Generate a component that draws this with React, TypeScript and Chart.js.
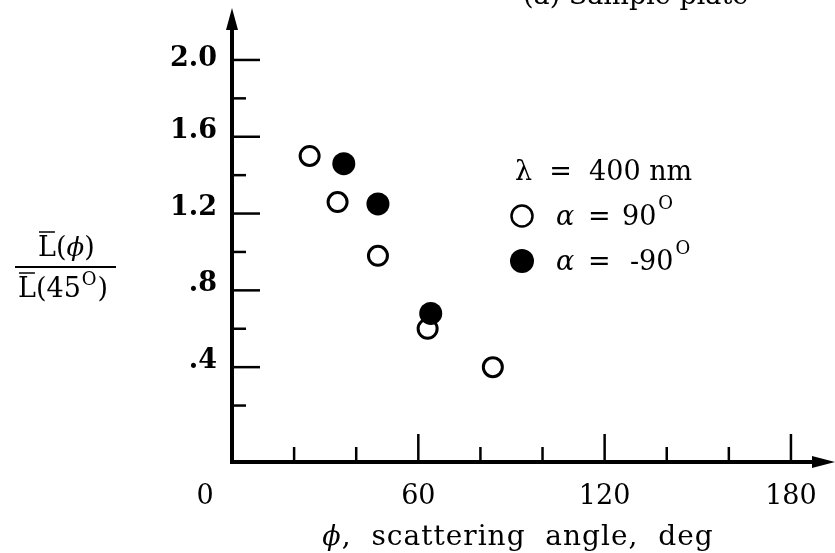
import React, { useEffect, useRef } from "react";
import { Chart, registerables } from "chart.js";

Chart.register(...registerables);

// ---- data ----
const openAngles = [25, 34, 47, 63, 84];
const openRatios = [1.5, 1.26, 0.98, 0.6, 0.4];
const filledAngles = [36, 47, 64];
const filledRatios = [1.46, 1.25, 0.68];

const xTickValues = [20, 40, 60, 80, 100, 120, 140, 160, 180];
const xMajorTicks = [60, 120, 180];
const xTickLabels = ["0", "60", "120", "180"];
const xLabelValues = [0, 60, 120, 180];

const yTickValues = [0.2, 0.4, 0.6, 0.8, 1.0, 1.2, 1.4, 1.6, 1.8, 2.0];
const yMajorTicks = [0.4, 0.8, 1.2, 1.6, 2.0];
const yTickLabels = [".4", ".8", "1.2", "1.6", "2.0"];

const legendTitle = "λ  =  400 nm";
const openLabel = "90";
const filledLabel = "-90";
const xTitleSymbol = "ϕ";
const xTitleRest = ",  scattering  angle,  deg";
const topTitle = "(a) Sample plate";

const SERIF = '"DejaVu Serif", "Liberation Serif", serif';

const decorPlugin = {
  id: "decor",
  afterDraw(chart: any) {
    const ctx = chart.ctx as CanvasRenderingContext2D;
    const xs = chart.scales.x;
    const ys = chart.scales.y;
    const x0 = xs.getPixelForValue(0);
    const yBase = chart.chartArea.bottom;
    ctx.save();
    ctx.strokeStyle = "#000";
    ctx.fillStyle = "#000";
    ctx.lineCap = "butt";

    // axes
    ctx.lineWidth = 4;
    ctx.beginPath();
    ctx.moveTo(x0, yBase + 2);
    ctx.lineTo(x0, 22);
    ctx.stroke();
    ctx.beginPath();
    ctx.moveTo(x0 - 2, yBase);
    ctx.lineTo(822, yBase);
    ctx.stroke();
    // arrows
    ctx.beginPath();
    ctx.moveTo(x0, 8);
    ctx.lineTo(x0 - 6, 30);
    ctx.lineTo(x0 + 6, 30);
    ctx.closePath();
    ctx.fill();
    ctx.beginPath();
    ctx.moveTo(835, yBase);
    ctx.lineTo(812, yBase - 6);
    ctx.lineTo(812, yBase + 6);
    ctx.closePath();
    ctx.fill();

    // x ticks (inward)
    ctx.lineWidth = 2.5;
    xTickValues.forEach((v) => {
      const px = xs.getPixelForValue(v);
      const len = xMajorTicks.includes(v) ? 28 : 15;
      ctx.beginPath();
      ctx.moveTo(px, yBase);
      ctx.lineTo(px, yBase - len);
      ctx.stroke();
    });
    // y ticks (inward)
    yTickValues.forEach((v) => {
      const py = ys.getPixelForValue(v);
      const len = yMajorTicks.includes(v) ? 28 : 14;
      ctx.beginPath();
      ctx.moveTo(x0, py);
      ctx.lineTo(x0 + len, py);
      ctx.stroke();
    });

    // x tick labels
    ctx.font = `27px ${SERIF}`;
    ctx.textAlign = "center";
    ctx.textBaseline = "middle";
    xLabelValues.forEach((v, i) => {
      let px = xs.getPixelForValue(v);
      if (v === 0) px -= 27;
      ctx.fillText(xTickLabels[i], px, 497);
    });
    // y tick labels
    ctx.font = `bold 27px ${SERIF}`;
    ctx.textAlign = "right";
    yMajorTicks.forEach((v, i) => {
      const py = ys.getPixelForValue(v);
      ctx.fillText(yTickLabels[i], 217, py - (v === 2.0 ? 1 : 6));
    });

    // x title (italic symbol + rest)
    ctx.textAlign = "left";
    (ctx as any).letterSpacing = "1px";
    ctx.font = `italic 27px ${SERIF}`;
    const wSym = ctx.measureText(xTitleSymbol).width;
    ctx.font = `28px ${SERIF}`;
    const wRest = ctx.measureText(xTitleRest).width;
    let tx = 518 - (wSym + wRest) / 2;
    ctx.font = `italic 27px ${SERIF}`;
    ctx.fillText(xTitleSymbol, tx, 538);
    tx += wSym;
    ctx.font = `28px ${SERIF}`;
    ctx.fillText(xTitleRest, tx, 538);
    (ctx as any).letterSpacing = "0px";

    // y title as fraction
    ctx.font = `27px ${SERIF}`;
    ctx.textAlign = "left";
    ctx.textBaseline = "alphabetic";
    const drawOverL = (x: number, base: number) => {
      ctx.fillText("L", x, base);
      const w = ctx.measureText("L").width;
      ctx.lineWidth = 1.5;
      ctx.beginPath();
      ctx.moveTo(x + 1, base - 24);
      ctx.lineTo(x + w - 1, base - 24);
      ctx.stroke();
      return w;
    };
    let nx = 38;
    nx += drawOverL(nx, 256);
    ctx.fillText("(", nx, 256);
    nx += ctx.measureText("(").width;
    ctx.font = `italic 26px ${SERIF}`;
    ctx.fillText("ϕ", nx, 256);
    nx += ctx.measureText("ϕ").width;
    ctx.font = `27px ${SERIF}`;
    ctx.fillText(")", nx, 256);

    ctx.lineWidth = 2;
    ctx.beginPath();
    ctx.moveTo(15, 267);
    ctx.lineTo(116, 267);
    ctx.stroke();

    let dx = 18;
    dx += drawOverL(dx, 297);
    ctx.fillText("(45", dx, 297);
    dx += ctx.measureText("(45").width;
    ctx.font = `18px ${SERIF}`;
    ctx.fillText("O", dx + 1, 285);
    dx += ctx.measureText("O").width + 2;
    ctx.font = `27px ${SERIF}`;
    ctx.fillText(")", dx, 297);

    // legend
    ctx.font = `27px ${SERIF}`;
    ctx.textBaseline = "alphabetic";
    ctx.fillText(legendTitle, 515, 180);

    const drawEntry = (cy: number, filled: boolean, label: string, numX: number) => {
      ctx.beginPath();
      ctx.arc(522, cy, filled ? 12 : 10.5, 0, Math.PI * 2);
      if (filled) {
        ctx.fill();
      } else {
        ctx.lineWidth = 2.5;
        ctx.stroke();
      }
      ctx.font = `italic 27px ${SERIF}`;
      ctx.fillText("α", 556, cy + 9);
      ctx.font = `27px ${SERIF}`;
      ctx.fillText("=", 588, cy + 9);
      ctx.fillText(label, numX, cy + 9);
      const w = ctx.measureText(label).width;
      ctx.font = `18px ${SERIF}`;
      ctx.fillText("O", numX + w + 2, cy - 7);
    };
    drawEntry(216, false, openLabel, 622);
    drawEntry(261, true, filledLabel, 630);

    // clipped top title
    ctx.font = `27px ${SERIF}`;
    ctx.fillText(topTitle, 523, 4);

    ctx.restore();
  },
};

export default function App() {
  const canvasRef = useRef<HTMLCanvasElement | null>(null);
  useEffect(() => {
    if (!canvasRef.current) return;
    const chart = new Chart(canvasRef.current, {
      type: "scatter",
      data: {
        datasets: [
          {
            label: "α = -90°",
            data: filledAngles.map((x, i) => ({ x, y: filledRatios[i] })),
            pointStyle: "circle",
            pointRadius: 11.5,
            pointBackgroundColor: "#000",
            pointBorderColor: "#000",
            pointBorderWidth: 0,
          },
          {
            label: "α = 90°",
            data: openAngles.map((x, i) => ({ x, y: openRatios[i] })),
            pointStyle: "circle",
            pointRadius: 9.5,
            pointBackgroundColor: "#fff",
            pointBorderColor: "#000",
            pointBorderWidth: 3,
          },
        ],
      },
      options: {
        responsive: false,
        animation: false,
        devicePixelRatio: 1,
        layout: { padding: { left: 232, right: 13, top: 30, bottom: 91 } },
        plugins: { legend: { display: false }, tooltip: { enabled: false } },
        scales: {
          x: { type: "linear", min: 0, max: 190, display: false },
          y: { type: "linear", min: -0.094, max: 2.156, display: false },
        },
      },
      plugins: [decorPlugin],
    });
    return () => chart.destroy();
  }, []);
  return (
    <div style={{ position: "absolute", left: 0, top: 0, width: 835, height: 553, background: "#fff" }}>
      <canvas ref={canvasRef} width={835} height={553} />
    </div>
  );
}
